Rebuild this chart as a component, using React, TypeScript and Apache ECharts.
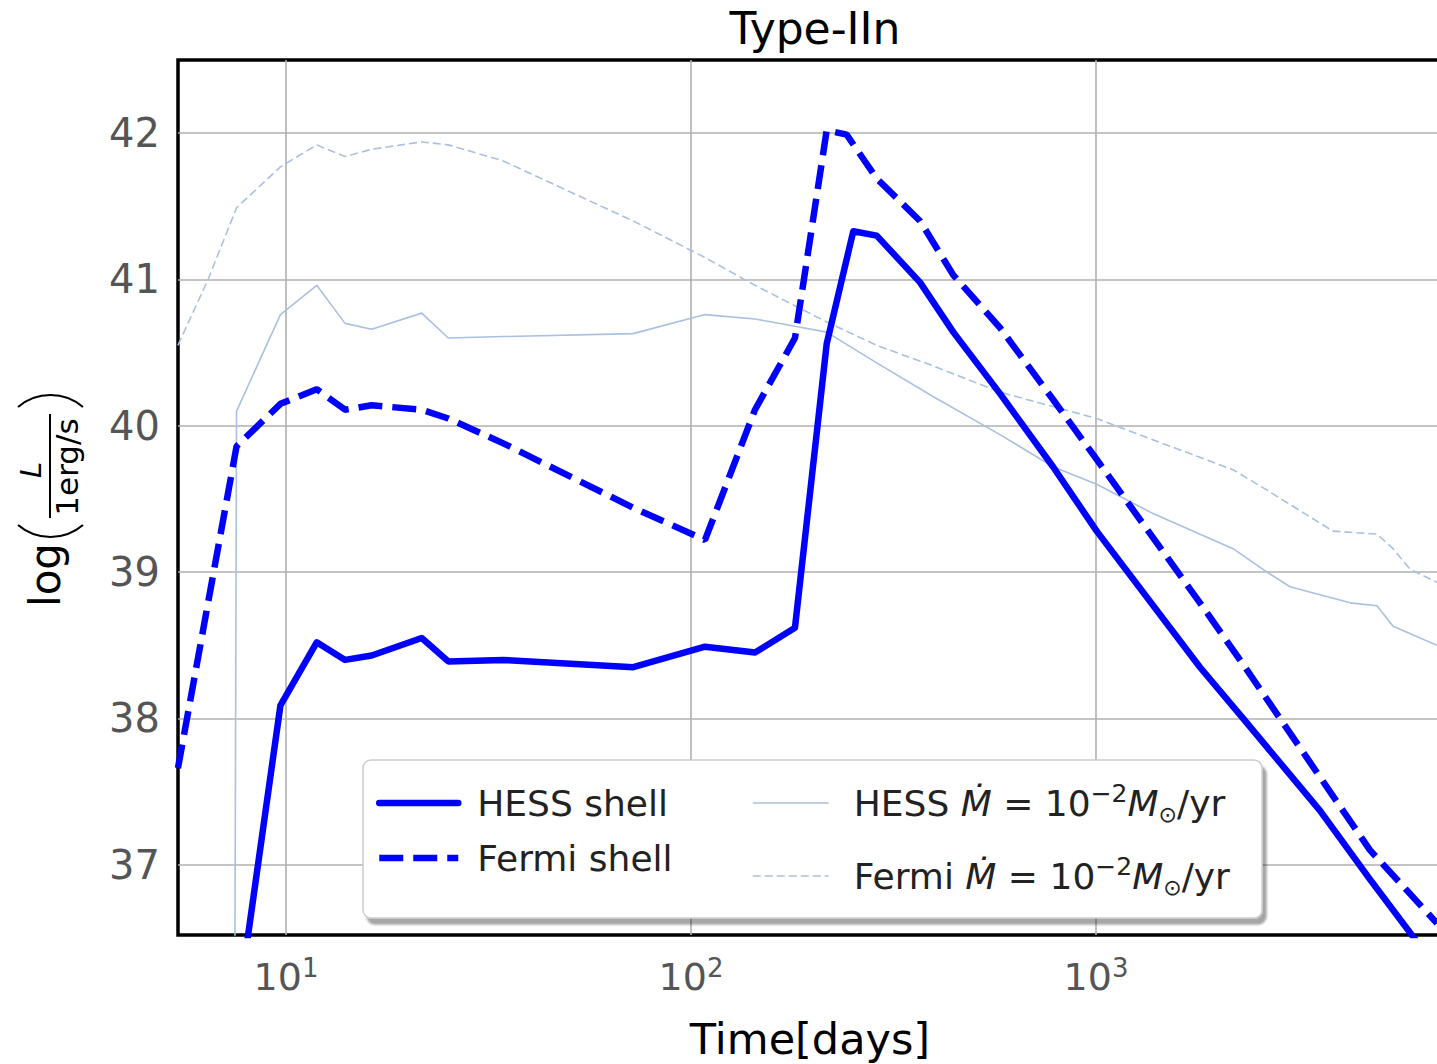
import React, { useEffect, useRef } from "react";
import * as echarts from "echarts";

const FONT = "DejaVu Sans";

// ---- data (time in days, log10 luminosity) ----
const hessShellT = [7.55, 9.69, 11.91, 13.99, 16.28, 21.63, 25.16, 34.4, 72.0, 108.3, 143.9, 180.6, 216.3, 251.6, 287.4, 367.7, 444.3, 579.4, 783.2, 1004, 1806, 2307, 3573, 4748, 7000];
const hessShellL = [35.96, 38.09, 38.52, 38.4, 38.43, 38.55, 38.39, 38.4, 38.35, 38.49, 38.45, 38.62, 40.56, 41.33, 41.3, 40.98, 40.64, 40.22, 39.72, 39.28, 38.35, 38.0, 37.37, 36.9, 36.28];

const fermiShellT = [5.41, 7.55, 9.69, 11.91, 13.99, 16.28, 21.63, 25.16, 34.4, 72.0, 108.3, 143.9, 180.6, 216.3, 242.3, 287.4, 367.7, 444.3, 579.4, 783.2, 1004, 1806, 2307, 3573, 4748, 6950];
const fermiShellL = [37.66, 39.86, 40.15, 40.25, 40.11, 40.14, 40.11, 40.05, 39.88, 39.44, 39.22, 40.11, 40.6, 42.02, 41.99, 41.69, 41.4, 41.03, 40.67, 40.18, 39.77, 38.79, 38.37, 37.6, 37.1, 36.6];

const hessMdotT = [7.36, 7.55, 9.69, 11.91, 13.99, 16.28, 21.63, 25.16, 34.4, 72.0, 108.3, 143.9, 180.6, 216.3, 287.4, 395.8, 579.4, 783.2, 1004, 1383, 2179, 2644, 3013, 4239, 4941, 5412, 6950];
const hessMdotL = [30.0, 40.1, 40.76, 40.96, 40.7, 40.66, 40.77, 40.6, 40.61, 40.63, 40.76, 40.73, 40.68, 40.64, 40.43, 40.2, 39.94, 39.72, 39.6, 39.4, 39.16, 39.0, 38.9, 38.79, 38.77, 38.63, 38.5];

const fermiMdotT = [5.41, 6.42, 7.55, 9.69, 11.91, 13.99, 16.28, 21.63, 25.16, 34.4, 50.2, 72.0, 108.3, 143.9, 180.6, 216.3, 287.4, 395.8, 579.4, 1004, 1277, 2179, 2644, 3847, 4941, 5412, 5963, 6950];
const fermiMdotL = [40.55, 41.0, 41.49, 41.77, 41.92, 41.84, 41.89, 41.94, 41.92, 41.81, 41.6, 41.4, 41.15, 40.96, 40.82, 40.71, 40.55, 40.41, 40.23, 40.05, 39.94, 39.7, 39.56, 39.28, 39.26, 39.16, 39.02, 38.93];

const seriesNames = ["HESS shell", "Fermi shell", "HESS \u1E40", "Fermi \u1E40"];

const X_MIN = 5.412;
const X_MAX = 7150;
const Y_MIN = 36.52;
const Y_MAX = 42.5;

const pairs = (t: number[], l: number[]) => t.map((x, i) => [x, l[i]]);

const BLUE = "#0000ff";
const LIGHT = "#a9c0e0";

export default function App() {
  const ref = useRef<HTMLDivElement>(null);
  useEffect(() => {
    if (!ref.current) return;
    const chart = echarts.init(ref.current, undefined, { renderer: "svg" });
    const mathRich = {
      n: { fontSize: 36, lineHeight: 44, color: "#222", fontFamily: FONT },
      i: { fontSize: 36, lineHeight: 44, color: "#222", fontFamily: FONT, fontStyle: "italic" },
      sup: { fontSize: 25, lineHeight: 30, verticalAlign: "top", color: "#222", fontFamily: FONT },
      sub: { fontSize: 22, lineHeight: 30, verticalAlign: "bottom", color: "#222", fontFamily: FONT },
    };
    const option: any = {
      animation: false,
      backgroundColor: "#ffffff",
      title: {
        text: "Type-IIn",
        left: 810,
        top: 1,
        textAlign: "center",
        textStyle: { fontSize: 44, fontWeight: "normal", color: "#000", fontFamily: FONT },
      },
      grid: {
        left: 178,
        top: 60,
        width: 1264,
        height: 875,
        outerBoundsMode: "none",
        containLabel: false,
        show: true,
        borderColor: "#000",
        borderWidth: 3.5,
        backgroundColor: "transparent",
      },
      xAxis: {
        type: "log",
        logBase: 10,
        min: X_MIN,
        max: X_MAX,
        axisLine: { show: false },
        axisTick: { show: false },
        splitLine: { show: true, showMinLine: false, showMaxLine: false, lineStyle: { color: "#b0b0b0", width: 1.6 } },
        axisLabel: {
          margin: 20,
          formatter: (v: number) => {
            const e = Math.log10(v);
            const r = Math.round(e);
            if (Math.abs(e - r) > 1e-6) return "";
            return "{b|10}{s|" + r + "}";
          },
          rich: {
            b: { fontSize: 38, lineHeight: 44, color: "#555", fontFamily: FONT },
            s: { fontSize: 26, lineHeight: 30, verticalAlign: "top", color: "#555", fontFamily: FONT },
          },
        },
        name: "Time[days]",
        nameLocation: "middle",
        nameGap: 82,
        nameTextStyle: { fontSize: 43, color: "#000", fontFamily: FONT },
      },
      yAxis: {
        type: "value",
        min: Y_MIN,
        max: Y_MAX,
        axisLine: { show: false },
        axisTick: { show: false },
        splitLine: { show: true, showMinLine: false, showMaxLine: false, lineStyle: { color: "#b0b0b0", width: 1.6 } },
        axisLabel: {
          fontSize: 40,
          color: "#555",
          fontFamily: FONT,
          margin: 18,
          formatter: (v: number) => (Math.abs(v - Math.round(v)) < 1e-6 ? String(Math.round(v)) : ""),
        },
      },
      legend: [
        {
          data: [seriesNames[0], seriesNames[1]],
          orient: "vertical",
          left: 376,
          top: 781,
          padding: 0,
          itemWidth: 79,
          itemHeight: 14,
          itemGap: 11,
          selectedMode: false,
          itemStyle: { opacity: 0 },
          lineStyle: { width: 6.5 },
          textStyle: { fontSize: 36, lineHeight: 44, color: "#222", fontFamily: FONT, padding: [0, 0, 0, 14] },
          z: 5,
        },
        {
          data: [seriesNames[2], seriesNames[3]],
          orient: "vertical",
          left: 752,
          top: 781,
          padding: 0,
          itemWidth: 76,
          itemHeight: 14,
          itemGap: 29,
          selectedMode: false,
          itemStyle: { opacity: 0 },
          lineStyle: { width: 1.6 },
          formatter: (name: string) => {
            const who = name.split(" ")[0];
            return "{n|" + who + " }{i|\u1E40}{n| = 10}{sup|\u22122}{i|M}{sub|\u2299}{n|/yr}";
          },
          textStyle: { fontSize: 36, lineHeight: 44, color: "#222", fontFamily: FONT, padding: [0, 0, 0, 20], rich: mathRich },
          z: 5,
        },
      ],
      graphic: [
        {
          type: "rect",
          z: 3,
          shape: { x: 363, y: 760, width: 899, height: 158, r: 8 },
          style: {
            fill: "#ffffff",
            stroke: "#cccccc",
            lineWidth: 1.5,
            shadowColor: "rgba(0,0,0,0.35)",
            shadowBlur: 2,
            shadowOffsetX: 4,
            shadowOffsetY: 6,
          },
        },
        {
          type: "text",
          x: 45,
          y: 575,
          rotation: Math.PI / 2,
          style: { text: "log", fontSize: 42, fontFamily: FONT, fill: "#000", align: "center", verticalAlign: "middle" },
        },
        {
          type: "arc",
          shape: { cx: 50.5, cy: 487, r: 50, startAngle: Math.PI / 2 - 0.707, endAngle: Math.PI / 2 + 0.707, clockwise: true },
          style: { stroke: "#000", lineWidth: 2.2, fill: "none" },
        },
        {
          type: "arc",
          shape: { cx: 50.5, cy: 445, r: 50, startAngle: -Math.PI / 2 - 0.707, endAngle: -Math.PI / 2 + 0.707, clockwise: true },
          style: { stroke: "#000", lineWidth: 2.2, fill: "none" },
        },
        {
          type: "line",
          shape: { x1: 50, y1: 414, x2: 50, y2: 518 },
          style: { stroke: "#000", lineWidth: 2 },
        },
        {
          type: "text",
          x: 31,
          y: 470,
          rotation: Math.PI / 2,
          style: { text: "L", fontSize: 29, fontStyle: "italic", fontFamily: FONT, fill: "#000", align: "center", verticalAlign: "middle" },
        },
        {
          type: "text",
          x: 66.5,
          y: 467,
          rotation: Math.PI / 2,
          style: { text: "1erg/s", fontSize: 31, fontFamily: FONT, fill: "#000", align: "center", verticalAlign: "middle" },
        },
      ],
      series: [
        {
          type: "line",
          name: seriesNames[2],
          data: pairs(hessMdotT, hessMdotL),
          symbol: "none",
          itemStyle: { color: LIGHT },
          lineStyle: { color: LIGHT, width: 1.6, join: "round" },
          z: 2,
        },
        {
          type: "line",
          name: seriesNames[3],
          data: pairs(fermiMdotT, fermiMdotL),
          symbol: "none",
          itemStyle: { color: LIGHT },
          lineStyle: { color: LIGHT, width: 1.6, type: [8, 4] },
          z: 2,
        },
        {
          type: "line",
          name: seriesNames[0],
          data: pairs(hessShellT, hessShellL),
          symbol: "none",
          itemStyle: { color: BLUE },
          lineStyle: { color: BLUE, width: 6.5, join: "round", cap: "round" },
          z: 2,
        },
        {
          type: "line",
          name: seriesNames[1],
          data: pairs(fermiShellT, fermiShellL),
          symbol: "none",
          itemStyle: { color: BLUE },
          lineStyle: { color: BLUE, width: 6.5, type: [24, 10] },
          z: 2,
        },
      ],
    };
    chart.setOption(option);
    return () => chart.dispose();
  }, []);
  return (
    <div
      ref={ref}
      style={{ position: "fixed", left: 0, top: 0, width: 1437, height: 1064, background: "#fff" }}
    />
  );
}
